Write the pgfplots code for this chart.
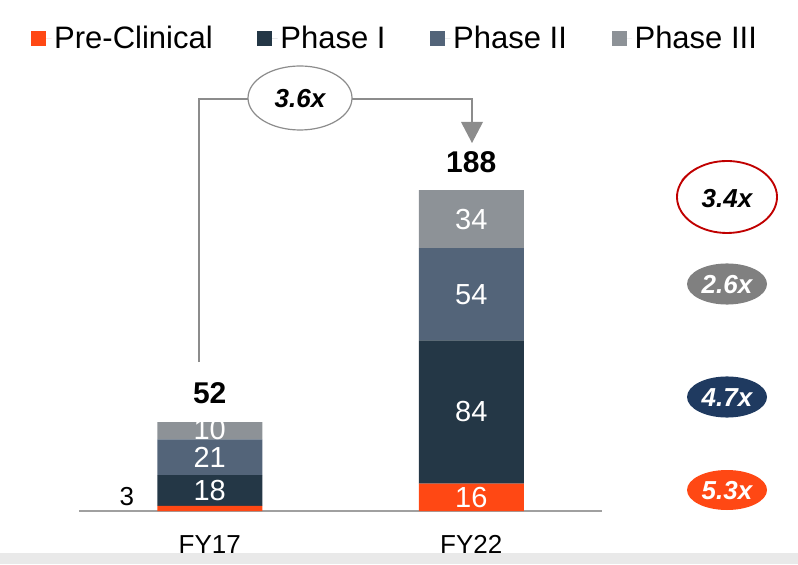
\documentclass[border=0pt]{standalone}
\usepackage{pgfplots}
\pgfplotsset{compat=1.18}
\usepackage{fontspec}
\setmainfont{Liberation Sans}

\definecolor{preclin}{HTML}{FF4814}
\definecolor{phaseone}{HTML}{243746}
\definecolor{phasetwo}{HTML}{536479}
\definecolor{phasethree}{HTML}{8D9297}
\definecolor{linegray}{HTML}{8C8C8C}
\definecolor{basegray}{HTML}{A0A0A0}
\definecolor{navyoval}{HTML}{1F3A60}
\definecolor{grayoval}{HTML}{808080}
\definecolor{redloop}{HTML}{C00000}
\definecolor{band}{HTML}{E9E9E9}

\newcommand{\fs}[1]{\fontsize{#1}{#1}\selectfont}
\tikzset{seglab/.style={font=\fs{21.75}, text=white}}

\begin{document}
\begin{tikzpicture}[x=0.75pt, y=0.75pt]
\useasboundingbox (0,0) rectangle (798,564);
\fill[band] (0,0) rectangle (798,11);

% growth bracket FY17 -> FY22
\draw[linegray, line width=1.5pt] (199,202) -- (199,465) -- (472,465) -- (472,440);
\fill[linegray] (461,442) -- (483,442) -- (472,421) -- cycle;
\draw[linegray, line width=0.9pt, fill=white] (300,466) ellipse [x radius=39pt, y radius=24pt];
\node[font=\fs{19.5}\bfseries\itshape] at (300,465) {3.6x};

\begin{axis}[
  at={(59.25pt,39.75pt)}, anchor=south west,
  scale only axis, width=392.25pt, height=256.1pt,
  xmin=-0.5, xmax=1.5, ymin=0, ymax=200,
  ybar stacked, bar width=78.75pt,
  axis y line=none,
  axis x line*=bottom,
  x axis line style={draw=basegray, line width=1.5pt, -},
  xtick={0,1}, xticklabels={FY17,FY22},
  major tick length=0pt,
  xticklabel style={font=\fs{19.5}, yshift=-15pt},
  legend style={at={(rel axis cs:0.605,1.385)}, anchor=center, draw=none, fill=none,
    font=\fs{23.25}, legend columns=4, cells={anchor=west},
    /tikz/every even column/.append style={column sep=31.5pt}},
  legend image code/.code={\fill[#1,draw=none] (0pt,-5.625pt) rectangle (11.25pt,5.625pt);
    \path (0pt,0pt) -- (15.25pt,0pt);},
  clip=false,
]
\addplot[fill=preclin, draw=none] coordinates {(0,3) (1,16)};
\addlegendentry{Pre-Clinical}
\addplot[fill=phaseone, draw=none] coordinates {(0,18) (1,84)};
\addlegendentry{Phase I}
\addplot[fill=phasetwo, draw=none] coordinates {(0,21) (1,54)};
\addlegendentry{Phase II}
\addplot[fill=phasethree, draw=none] coordinates {(0,10) (1,34)};
\addlegendentry{Phase III}

% anchor points at the segment middles
\coordinate (a1) at (axis cs:0,12);
\coordinate (a2) at (axis cs:0,31.5);
\coordinate (a3) at (axis cs:0,47.5);
\coordinate (b0) at (axis cs:1,8);
\coordinate (b1) at (axis cs:1,58);
\coordinate (b2) at (axis cs:1,127);
\coordinate (b3) at (axis cs:1,171);
\node[font=\fs{19.5}] at (axis cs:-0.317,8.2) {3};
% totals
\node[font=\fs{22.5}\bfseries, yshift=21.75pt] at (axis cs:0,52) {52};
\node[font=\fs{22.5}\bfseries, yshift=21pt] at (axis cs:1,188) {188};
\end{axis}

% segment labels, drawn over the bars
\node[seglab] at (a1) {18};
\node[seglab] at (a2) {21};
\node[seglab] at (a3) {10};
\node[seglab] at (b0) {16};
\node[seglab] at (b1) {84};
\node[seglab] at (b2) {54};
\node[seglab] at (b3) {34};

% growth multiples per phase
\draw[redloop, line width=1.4pt] (727,367) ++(125:37.5pt and 27pt)
  arc[start angle=125, end angle=470, x radius=37.5pt, y radius=27pt]
  arc[start angle=110, end angle=150, x radius=40pt, y radius=30pt];
\node[font=\fs{19.5}\bfseries\itshape] at (727,365) {3.4x};
\fill[grayoval] (727,280) ellipse [x radius=30pt, y radius=15.4pt];
\node[font=\fs{19.5}\bfseries\itshape, text=white] at (727,279) {2.6x};
\fill[navyoval] (727,167) ellipse [x radius=30pt, y radius=15.4pt];
\node[font=\fs{19.5}\bfseries\itshape, text=white] at (727,166) {4.7x};
\fill[preclin] (727,74) ellipse [x radius=30pt, y radius=15pt];
\node[font=\fs{19.5}\bfseries\itshape, text=white] at (727,73) {5.3x};
\end{tikzpicture}
\end{document}
